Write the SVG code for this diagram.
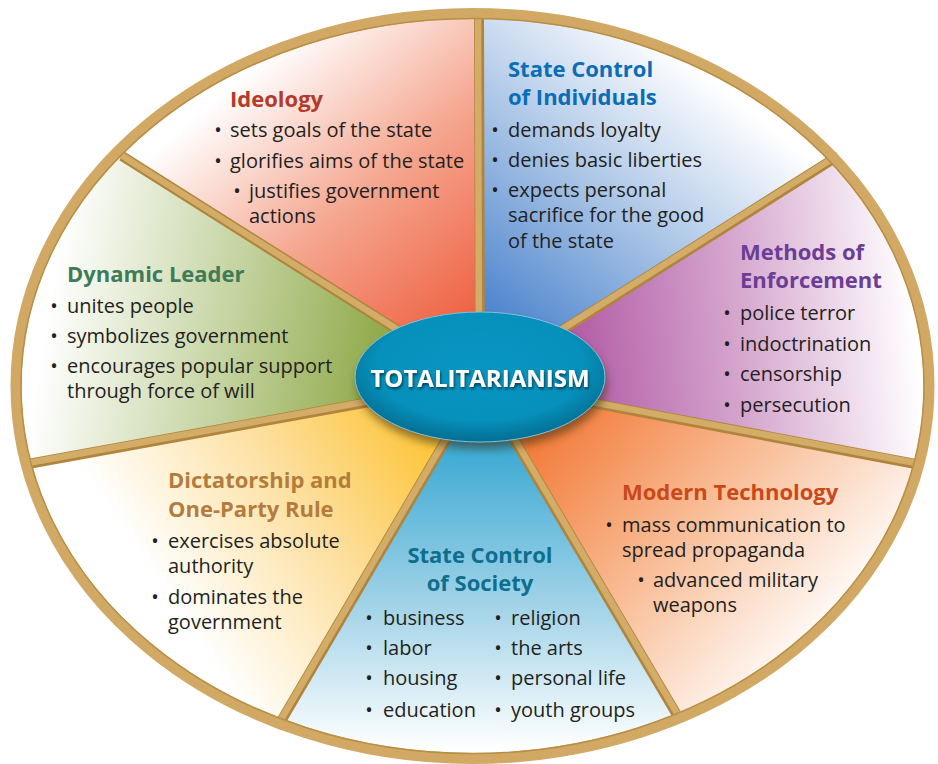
<svg xmlns="http://www.w3.org/2000/svg" width="938" height="764" viewBox="0 0 938 764">
<style>
.h{font-family:"Open Sans","Noto Sans","Liberation Sans",sans-serif;font-weight:700;font-size:22px}
.t{font-family:"Open Sans","Noto Sans","Liberation Sans",sans-serif;font-size:20px;fill:#231F20}
.b{font-family:"Open Sans","Noto Sans","Liberation Sans",sans-serif;font-size:20px;fill:#231F20;text-anchor:middle}
.div{stroke:#B0843C;stroke-width:10;stroke-linecap:butt}
.divt{stroke:#D3AC68;stroke-width:6.5;stroke-linecap:butt}
</style>
<defs>
<clipPath id="oval"><ellipse cx="472.5" cy="386" rx="452" ry="368"/></clipPath>
<linearGradient id="gIde" gradientUnits="userSpaceOnUse" x1="470" y1="330" x2="250" y2="70">
<stop offset="0" stop-color="#EE5F40"/><stop offset="0.5" stop-color="#F5A58E"/><stop offset="1" stop-color="#FFFFFF"/></linearGradient>
<linearGradient id="gInd" gradientUnits="userSpaceOnUse" x1="500" y1="320" x2="700" y2="70">
<stop offset="0" stop-color="#4F86CE"/><stop offset="0.5" stop-color="#A9C4E6"/><stop offset="1" stop-color="#FFFFFF"/></linearGradient>
<linearGradient id="gMet" gradientUnits="userSpaceOnUse" x1="570" y1="350" x2="915" y2="320">
<stop offset="0" stop-color="#B25BA5"/><stop offset="0.5" stop-color="#D6A8CF"/><stop offset="1" stop-color="#FFFFFF"/></linearGradient>
<linearGradient id="gMod" gradientUnits="userSpaceOnUse" x1="555" y1="410" x2="820" y2="650">
<stop offset="0" stop-color="#F27A38"/><stop offset="0.5" stop-color="#F9BE98"/><stop offset="1" stop-color="#FFFFFF"/></linearGradient>
<linearGradient id="gSoc" gradientUnits="userSpaceOnUse" x1="480" y1="440" x2="480" y2="750">
<stop offset="0" stop-color="#37A8D2"/><stop offset="0.5" stop-color="#9BD0E6"/><stop offset="1" stop-color="#FFFFFF"/></linearGradient>
<linearGradient id="gDic" gradientUnits="userSpaceOnUse" x1="440" y1="420" x2="170" y2="600">
<stop offset="0" stop-color="#FCC12C"/><stop offset="0.5" stop-color="#FDE0A0"/><stop offset="1" stop-color="#FFFFFF"/></linearGradient>
<linearGradient id="gDyn" gradientUnits="userSpaceOnUse" x1="410" y1="360" x2="50" y2="300">
<stop offset="0" stop-color="#86A23A"/><stop offset="0.5" stop-color="#C4D3A0"/><stop offset="1" stop-color="#FFFFFF"/></linearGradient>
<radialGradient id="gCen" cx="0.5" cy="0.42" r="0.6">
<stop offset="0" stop-color="#0896C2"/><stop offset="0.7" stop-color="#0690BB"/><stop offset="1" stop-color="#04698C"/></radialGradient>
<filter id="sh" x="-20%" y="-20%" width="140%" height="160%">
<feGaussianBlur stdDeviation="4"/></filter>
<filter id="tsh" x="-10%" y="-30%" width="120%" height="180%">
<feDropShadow dx="1" dy="2" stdDeviation="1.5" flood-color="#03364A" flood-opacity="0.9"/></filter>
</defs>

<g id="wedges" clip-path="url(#oval)">
<g id="ideology-bg"><polygon points="480,382 479,-800 -585,-800 -585,-290" fill="url(#gIde)"/></g>
<g id="individuals-bg"><polygon points="480,382 479,-800 1545,-800 1545,-290" fill="url(#gInd)"/></g>
<g id="methods-bg"><polygon points="480,382 1545,-290 1836,-290 1836,637" fill="url(#gMet)"/></g>
<g id="modern-bg"><polygon points="480,382 1836,637 1836,1400 1074,1387" fill="url(#gMod)"/></g>
<g id="society-bg"><polygon points="480,382 1074,1387 -114,1396" fill="url(#gSoc)"/></g>
<g id="dictatorship-bg"><polygon points="480,382 -114,1396 -861,1396 -861,625" fill="url(#gDic)"/></g>
<g id="dynamic-bg"><polygon points="480,382 -861,625 -861,-290 -585,-290" fill="url(#gDyn)"/></g>
</g>

<g id="connectors">
<g class="div">
<line x1="480" y1="382" x2="479" y2="14"/>
<line x1="480" y1="382" x2="122" y2="156"/>
<line x1="480" y1="382" x2="28" y2="464"/>
<line x1="480" y1="382" x2="280" y2="723"/>
<line x1="480" y1="382" x2="680" y2="720"/>
<line x1="480" y1="382" x2="921" y2="465"/>
<line x1="480" y1="382" x2="838" y2="156"/>
</g>
<g class="divt">
<line x1="479" y1="382" x2="478" y2="14"/>
<line x1="479" y1="381" x2="121" y2="155"/>
<line x1="480" y1="381" x2="28" y2="463"/>
<line x1="479" y1="382" x2="279" y2="723"/>
<line x1="481" y1="382" x2="681" y2="720"/>
<line x1="480" y1="381" x2="921" y2="464"/>
<line x1="480" y1="381" x2="838" y2="155"/>
</g>
</g>

<g id="rim">
<ellipse cx="472.5" cy="386" rx="456.5" ry="372.5" fill="none" stroke="#D1A964" stroke-width="11"/>
<ellipse cx="472.5" cy="386" rx="451.5" ry="367.5" fill="none" stroke="#B98E45" stroke-width="1.5"/>
</g>

<g id="ideology">
<text class="h" x="230" y="107" fill="#B43A29">Ideology</text>
<text class="b" x="218" y="137">•</text><text class="t" x="230" y="137">sets goals of the state</text>
<text class="b" x="218" y="168">•</text><text class="t" x="230" y="168">glorifies aims of the state</text>
<text class="b" x="237" y="198">•</text><text class="t" x="249" y="198">justifies government</text>
<text class="t" x="249" y="223">actions</text>
</g>

<g id="individuals">
<text class="h" x="508" y="77" fill="#0A6DB5">State Control</text>
<text class="h" x="508" y="105" fill="#0A6DB5">of Individuals</text>
<text class="b" x="495" y="137">•</text><text class="t" x="508" y="137">demands loyalty</text>
<text class="b" x="495" y="167">•</text><text class="t" x="508" y="167">denies basic liberties</text>
<text class="b" x="495" y="197">•</text><text class="t" x="508" y="197">expects personal</text>
<text class="t" x="508" y="222">sacrifice for the good</text>
<text class="t" x="508" y="248">of the state</text>
</g>

<g id="methods">
<text class="h" x="740" y="260" fill="#6B3D95">Methods of</text>
<text class="h" x="740" y="288" fill="#6B3D95">Enforcement</text>
<text class="b" x="727" y="320">•</text><text class="t" x="740" y="320">police terror</text>
<text class="b" x="727" y="351">•</text><text class="t" x="740" y="351">indoctrination</text>
<text class="b" x="727" y="381">•</text><text class="t" x="740" y="381">censorship</text>
<text class="b" x="727" y="412">•</text><text class="t" x="740" y="412">persecution</text>
</g>

<g id="dynamic-leader">
<text class="h" x="67" y="282" fill="#3E7B57">Dynamic Leader</text>
<text class="b" x="54" y="313">•</text><text class="t" x="67" y="313">unites people</text>
<text class="b" x="54" y="343">•</text><text class="t" x="67" y="343">symbolizes government</text>
<text class="b" x="54" y="373">•</text><text class="t" x="67" y="373">encourages popular support</text>
<text class="t" x="67" y="398">through force of will</text>
</g>

<g id="dictatorship">
<text class="h" x="168" y="488" fill="#B47C3C">Dictatorship and</text>
<text class="h" x="168" y="517" fill="#B47C3C">One-Party Rule</text>
<text class="b" x="155" y="548">•</text><text class="t" x="168" y="548">exercises absolute</text>
<text class="t" x="168" y="573">authority</text>
<text class="b" x="155" y="604">•</text><text class="t" x="168" y="604">dominates the</text>
<text class="t" x="168" y="629">government</text>
</g>

<g id="society">
<text class="h" x="480" y="563" fill="#0D6E8E" text-anchor="middle">State Control</text>
<text class="h" x="480" y="591" fill="#0D6E8E" text-anchor="middle">of Society</text>
<text class="b" x="369" y="625">•</text><text class="t" x="383" y="625">business</text>
<text class="b" x="369" y="655">•</text><text class="t" x="383" y="655">labor</text>
<text class="b" x="369" y="685">•</text><text class="t" x="383" y="685">housing</text>
<text class="b" x="369" y="717">•</text><text class="t" x="383" y="717">education</text>
<text class="b" x="498" y="625">•</text><text class="t" x="511" y="625">religion</text>
<text class="b" x="498" y="655">•</text><text class="t" x="511" y="655">the arts</text>
<text class="b" x="498" y="685">•</text><text class="t" x="511" y="685">personal life</text>
<text class="b" x="498" y="717">•</text><text class="t" x="511" y="717">youth groups</text>
</g>

<g id="modern-technology">
<text class="h" x="622" y="500" fill="#C9491B">Modern Technology</text>
<text class="b" x="609" y="532">•</text><text class="t" x="622" y="532">mass communication to</text>
<text class="t" x="622" y="557">spread propaganda</text>
<text class="b" x="641" y="587">•</text><text class="t" x="653" y="587">advanced military</text>
<text class="t" x="653" y="612">weapons</text>
</g>

<g id="totalitarianism">
<ellipse cx="482" cy="384" rx="125" ry="65" fill="#3A2A10" opacity="0.55" filter="url(#sh)"/>
<ellipse cx="480" cy="377" rx="125" ry="65" fill="url(#gCen)" stroke="#7FC3DA" stroke-width="1"/>
<text x="480" y="387" text-anchor="middle" font-family="Open Sans,Noto Sans,Liberation Sans,sans-serif" font-weight="700" font-size="24" fill="#FFFFFF" filter="url(#tsh)">TOTALITARIANISM</text>
</g>
</svg>
